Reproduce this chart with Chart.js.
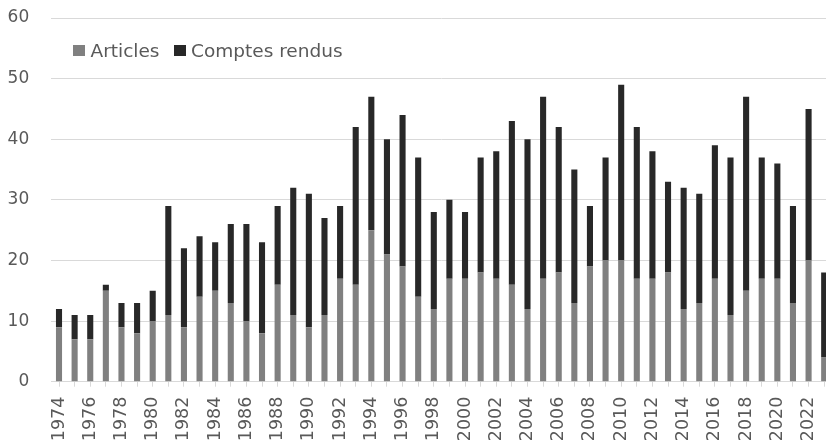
<!DOCTYPE html>
<html>
<head>
<meta charset="utf-8">
<script src="https://cdn.jsdelivr.net/npm/chart.js@4/dist/chart.umd.min.js"></script>
<style>
  html, body { margin: 0; padding: 0; background: #ffffff; overflow: hidden; }
  #wrap { position: relative; width: 826px; height: 442px; overflow: hidden; }
  #chart { position: absolute; left: 0; top: 0; }
  #legend { position: absolute; left: 73px; top: 40px; display: flex; align-items: center;
            font-family: 'DejaVu Sans', sans-serif; font-size: 18.5px; color: #595959; white-space: nowrap; }
  .item { display: flex; align-items: center; margin-right: 14px; }
  .box { display: inline-block; width: 12px; height: 11px; margin-right: 5.5px; }
</style>
</head>
<body>
<div id="wrap">
  <canvas id="chart" width="832" height="442"></canvas>
  <div id="legend"></div>
</div>
<script>
const years = ['1974','1975','1976','1977','1978','1979','1980','1981','1982','1983',
  '1984','1985','1986','1987','1988','1989','1990','1991','1992','1993',
  '1994','1995','1996','1997','1998','1999','2000','2001','2002','2003',
  '2004','2005','2006','2007','2008','2009','2010','2011','2012','2013',
  '2014','2015','2016','2017','2018','2019','2020','2021','2022','2023'];

const articles = [9,7,7,15,9,8,10,11,9,14,
  15,13,10,8,16,11,9,11,17,16,
  25,21,19,14,12,17,17,18,17,16,
  12,17,18,13,19,20,20,17,17,18,
  12,13,17,11,15,17,17,13,20,4];

const comptesRendus = [3,4,4,1,4,5,5,18,13,10,
  8,13,16,15,13,21,22,16,12,26,
  22,19,25,23,16,13,11,19,21,27,
  28,30,24,22,10,17,29,25,21,15,
  20,18,22,26,32,20,19,16,25,14];

const seriesNames = ['Articles', 'Comptes rendus'];
const seriesColors = ['#808080', '#282828'];
const yTicks = [0, 10, 20, 30, 40, 50, 60];

Chart.defaults.font.family = "'DejaVu Sans', sans-serif";
Chart.defaults.color = '#595959';

const chart = new Chart(document.getElementById('chart'), {
  type: 'bar',
  data: {
    labels: years,
    datasets: [
      { label: seriesNames[0], data: articles, backgroundColor: seriesColors[0], borderWidth: 0,
        barPercentage: 0.39, categoryPercentage: 1.0 },
      { label: seriesNames[1], data: comptesRendus, backgroundColor: seriesColors[1], borderWidth: 0,
        barPercentage: 0.39, categoryPercentage: 1.0 }
    ]
  },
  options: {
    responsive: false,
    animation: false,
    layout: { padding: { left: 0, top: 18, right: 0, bottom: 0 } },
    plugins: { legend: { display: false }, tooltip: { enabled: false } },
    scales: {
      x: {
        stacked: true,
        grid: { display: true, offset: false, drawOnChartArea: false, drawTicks: true,
                tickLength: 5, color: '#d9d9d9' },
        border: { display: true, color: '#d9d9d9', width: 1 },
        ticks: {
          autoSkip: false, maxRotation: 90, minRotation: 90, padding: 10,
          font: { size: 17.5 }, color: '#595959',
          callback: function(v, i) { return i % 2 === 0 ? years[i] : ''; }
        },
        afterFit: function(scale) { scale.height = 60.3; scale.paddingLeft = 0; scale.paddingRight = 0; }
      },
      y: {
        stacked: true,
        min: yTicks[0], max: yTicks[yTicks.length - 1],
        grid: { color: '#d9d9d9', drawTicks: false, lineWidth: 1 },
        border: { display: false },
        ticks: { stepSize: 10, padding: 22, font: { size: 17 }, color: '#595959' },
        afterFit: function(scale) { scale.width = 51.2; scale.paddingTop = 0; scale.paddingBottom = 0; }
      }
    }
  }
});

const legendEl = document.getElementById('legend');
chart.data.datasets.forEach(function(ds) {
  const item = document.createElement('span');
  item.className = 'item';
  const box = document.createElement('span');
  box.className = 'box';
  box.style.background = ds.backgroundColor;
  const txt = document.createElement('span');
  txt.textContent = ds.label;
  item.appendChild(box);
  item.appendChild(txt);
  legendEl.appendChild(item);
});
</script>
</body>
</html>
